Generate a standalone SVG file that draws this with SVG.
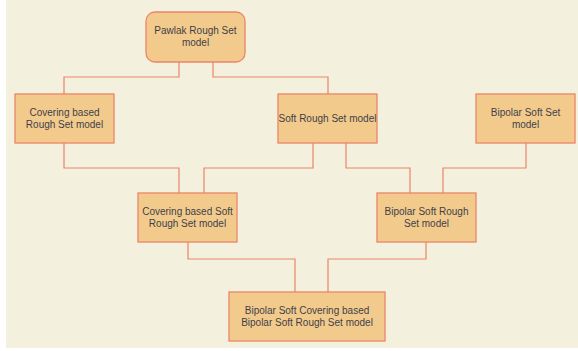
<svg xmlns="http://www.w3.org/2000/svg" width="578" height="351" viewBox="0 0 578 351">
<style>
.node rect{fill:#F2CB8C;stroke:#EB8468;stroke-width:1.3}
.node text{font-family:"Liberation Sans",Arial,sans-serif;font-size:10px;fill:#3F3F4A;text-anchor:middle}
.conn path{fill:none;stroke:#EB8468;stroke-width:1.2}
</style>
<rect x="0" y="0" width="578" height="351" fill="#FFFFFF"/>
<rect x="6" y="0" width="572" height="348" fill="#F4F0DE"/>
<g class="conn">
<path d="M179,62 V77 H64 V94"/>
<path d="M213,62 V77 H328 V94"/>
<path d="M64,143 V168 H179 V193"/>
<path d="M313,143 V168 H204 V193"/>
<path d="M346,143 V168 H410 V193"/>
<path d="M526,143 V168 H443 V193"/>
<path d="M188,242 V259 H295 V292"/>
<path d="M426,242 V259 H328 V292"/>
</g>
<g id="pawlak" class="node">
<rect x="146" y="12" width="99" height="50" rx="9"/>
<text x="195.5" y="34">Pawlak Rough Set</text>
<text x="195.5" y="46">model</text>
</g>
<g id="covering" class="node">
<rect x="15" y="94" width="99" height="49"/>
<text x="64.5" y="116">Covering based</text>
<text x="64.5" y="128">Rough Set model</text>
</g>
<g id="soft" class="node">
<rect x="278" y="94" width="99" height="49"/>
<text x="327.5" y="122">Soft Rough Set model</text>
</g>
<g id="bipolarsoftset" class="node">
<rect x="476" y="94" width="99" height="49"/>
<text x="525.5" y="116">Bipolar Soft Set</text>
<text x="525.5" y="128">model</text>
</g>
<g id="coveringsoft" class="node">
<rect x="138" y="193" width="99" height="49"/>
<text x="187.5" y="215">Covering based Soft</text>
<text x="187.5" y="227">Rough Set model</text>
</g>
<g id="bipolarsoftrough" class="node">
<rect x="377" y="193" width="99" height="49"/>
<text x="426.5" y="215">Bipolar Soft Rough</text>
<text x="426.5" y="227">Set model</text>
</g>
<g id="bipolarcovering" class="node">
<rect x="229" y="292" width="156" height="49"/>
<text x="307" y="314">Bipolar Soft Covering based</text>
<text x="307" y="326">Bipolar Soft Rough Set model</text>
</g>
</svg>
